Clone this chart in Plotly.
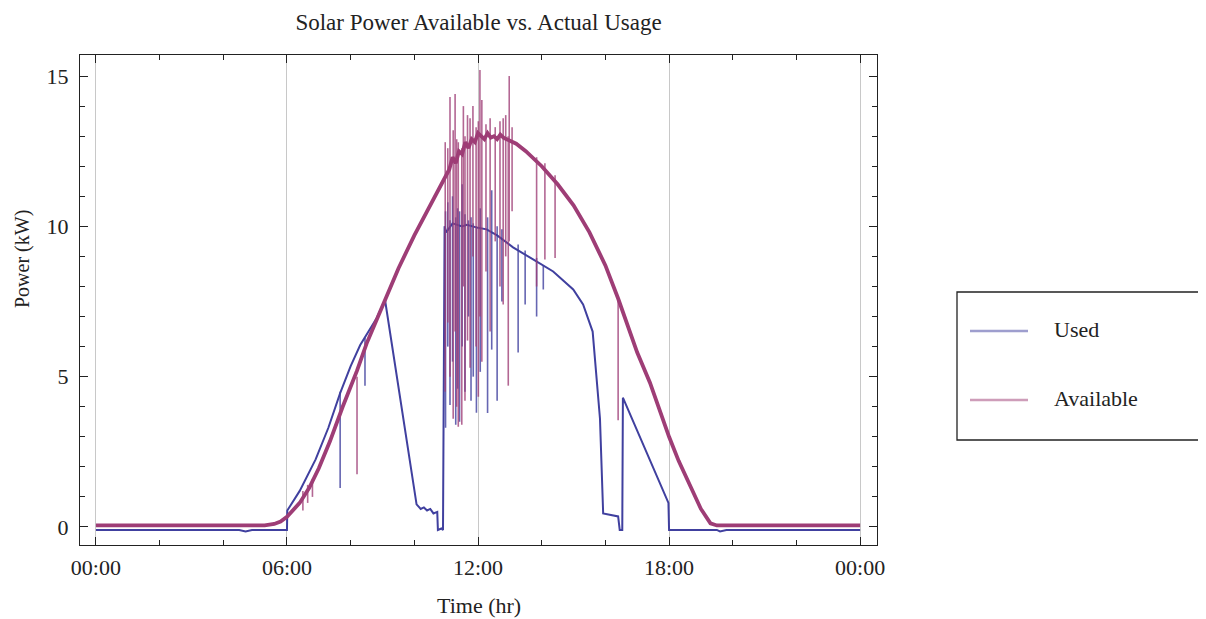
import plotly.graph_objects as go

# ---------------- data (hours, kW) ----------------
used_t = [0.0, 4.5, 4.7, 4.9, 6.0, 6.01, 6.1, 6.4, 6.9, 7.3, 7.67, 8.0, 8.3, 8.6, 8.82, 9.08,
          10.07, 10.2, 10.3, 10.4, 10.5, 10.6, 10.72, 10.74, 10.85, 10.9, 10.91, 10.95,
          11.0, 11.2, 11.5, 11.65, 12.0, 12.27, 12.6, 13.1, 13.73, 14.36, 14.99, 15.3, 15.6,
          15.83, 15.93, 16.2, 16.4, 16.45, 16.53, 16.55, 17.98, 18.0, 19.5, 19.6, 19.8, 24.0]
used_v = [-0.1, -0.1, -0.15, -0.1, -0.1, 0.55, 0.7, 1.2, 2.25, 3.3, 4.45, 5.35, 6.05, 6.55, 6.95, 7.55,
          0.75, 0.6, 0.65, 0.55, 0.6, 0.45, 0.5, -0.1, -0.05, -0.1, 3.2, 10.0,
          9.8, 10.1, 10.0, 10.05, 9.95, 9.9, 9.7, 9.3, 8.9, 8.5, 7.9, 7.4, 6.5,
          3.6, 0.45, 0.4, 0.35, -0.1, -0.1, 4.3, 0.8, -0.1, -0.1, -0.15, -0.1, -0.1]

avail_t = [0.0, 2.0, 4.0, 5.3, 5.6, 5.8, 6.0, 6.2, 6.4, 6.7, 7.0, 7.35, 7.75, 8.2, 8.5, 9.0,
           9.5, 10.0, 10.5, 10.9, 11.0, 11.1, 11.2, 11.3, 11.4, 11.5, 11.6, 11.7, 11.8, 11.9,
           12.0, 12.1, 12.2, 12.3, 12.4, 12.5, 12.6, 12.7, 12.8, 12.9, 13.0, 13.2, 13.5, 14.0,
           14.5, 15.0, 15.5, 16.0, 16.4, 17.0, 17.4, 18.0, 18.3, 18.7, 19.0, 19.3, 19.5, 22.0, 24.0]
avail_v = [0.05, 0.05, 0.05, 0.05, 0.1, 0.18, 0.34, 0.55, 0.8, 1.3, 1.95, 2.85, 4.0, 5.2, 6.1, 7.35,
           8.6, 9.7, 10.7, 11.5, 11.7, 11.9, 12.3, 12.1, 12.5, 12.4, 12.8, 12.6, 12.9, 12.8,
           13.1, 13.0, 12.9, 13.1, 12.95, 13.0, 12.9, 13.05, 12.95, 12.9, 12.85, 12.75, 12.5, 12.0,
           11.4, 10.7, 9.8, 8.7, 7.6, 5.8, 4.8, 3.0, 2.2, 1.25, 0.6, 0.12, 0.05, 0.05, 0.05]

# brief drop-outs / spikes in the sampled data: (time, low, high)
used_spike_t = [7.67, 8.45, 10.98, 11.05, 11.12, 11.2, 11.3, 11.36, 11.42, 11.5, 11.59, 11.7,
                11.78, 11.85, 11.95, 12.07, 12.3, 12.43, 12.6, 12.75, 13.26, 13.48, 13.84, 14.05]
used_spike_lo = [1.3, 4.7, 3.3, 6.0, 4.06, 5.5, 3.4, 4.6, 3.5, 6.0, 4.5, 7.0,
                 4.2, 5.0, 3.8, 5.16, 3.79, 5.9, 4.2, 7.5, 5.8, 7.4, 7.0, 7.9]
used_spike_hi = [4.5, 6.3, 10.5, 10.8, 10.2, 11.0, 10.3, 10.6, 10.5, 11.4, 10.4, 10.2,
                 10.3, 10.1, 10.0, 10.6, 10.3, 11.2, 10.0, 9.9, 9.4, 9.2, 8.95, 8.7]

avail_spike_t = [6.5, 6.65, 6.8, 8.2, 10.97, 11.05, 11.12, 11.22, 11.28, 11.33, 11.38, 11.49,
                 11.54, 11.59, 11.67, 11.75, 11.84, 11.94, 12.01, 12.06, 12.12, 12.25, 12.38,
                 12.54, 12.69, 12.79, 12.87, 12.95, 12.98, 13.07, 13.84, 14.1, 14.42, 16.4]
avail_spike_lo = [0.55, 0.8, 1.0, 1.75, 4.5, 6.8, 5.0, 3.6, 6.5, 4.0, 3.33, 3.4,
                  8.0, 4.2, 6.2, 5.3, 9.0, 6.0, 4.33, 7.0, 5.5, 8.5, 6.5,
                  9.5, 8.0, 7.4, 9.0, 4.7, 9.5, 10.5, 8.0, 8.9, 8.95, 3.55]
avail_spike_hi = [1.2, 1.4, 1.6, 5.0, 12.8, 12.6, 14.3, 13.2, 14.4, 12.9, 12.8, 12.6,
                  14.0, 13.0, 13.7, 13.6, 14.0, 13.3, 13.5, 15.2, 14.2, 13.4, 13.6,
                  13.3, 13.5, 13.6, 13.7, 13.0, 15.0, 13.3, 12.3, 12.1, 11.7, 7.6]

x_tickvals = [0, 6, 12, 18, 24]
x_ticktext = ["00:00", "06:00", "12:00", "18:00", "00:00"]
y_tickvals = [0, 5, 10, 15]

USED = "#40409f"
AVAIL = "#9e3d76"
FONT = "Liberation Serif"
OFF = 8  # page body margin of the html page


def segs(t, lo, hi):
    xs, ys = [], []
    for a, b, c in zip(t, lo, hi):
        xs += [a, a, None]
        ys += [b, c, None]
    return xs, ys


fig = go.Figure()
fig.add_trace(go.Scatter(x=used_t, y=used_v, mode="lines", name="Used",
                         line=dict(color=USED, width=2), showlegend=False))
ux, uy = segs(used_spike_t, used_spike_lo, used_spike_hi)
fig.add_trace(go.Scatter(x=ux, y=uy, mode="lines", line=dict(color=USED, width=1.6),
                         opacity=0.8, showlegend=False, hoverinfo="skip"))
fig.add_trace(go.Scatter(x=avail_t, y=avail_v, mode="lines", name="Available",
                         line=dict(color=AVAIL, width=3.8), showlegend=False))
ax, ay = segs(avail_spike_t, avail_spike_lo, avail_spike_hi)
fig.add_trace(go.Scatter(x=ax, y=ay, mode="lines", line=dict(color=AVAIL, width=1.6),
                         opacity=0.78, showlegend=False, hoverinfo="skip"))

axis_common = dict(showline=True, linecolor="#222", linewidth=1.3, mirror="ticks",
                   ticks="inside", tickcolor="#222", ticklen=8, tickwidth=1.2,
                   zeroline=False, tickfont=dict(family=FONT, size=22, color="#222"))

fig.update_xaxes(range=[-0.5, 24.53], tickmode="array", tickvals=x_tickvals,
                 ticktext=x_ticktext, showgrid=True, gridcolor="#c8c8c8", gridwidth=1.2,
                 minor=dict(dtick=2, tick0=0, ticks="inside", ticklen=5, tickcolor="#222",
                            showgrid=False),
                 ticklabelstandoff=2, **axis_common)
fig.update_yaxes(range=[-0.6, 15.7], tickmode="array", tickvals=y_tickvals, showgrid=False,
                 minor=dict(dtick=1, tick0=0, ticks="inside", ticklen=5, tickcolor="#222",
                            showgrid=False),
                 ticklabelstandoff=6, **axis_common)


# legend (box, sample lines, labels) -- positions in reference page pixels
def px_x(x):
    return (x - 80) / 797


def px_y(y):
    return (545 - y) / 490


fig.add_shape(type="rect", xref="paper", yref="paper", x0=px_x(957), x1=px_x(1204),
              y0=px_y(440), y1=px_y(292), line=dict(color="#222", width=1.3),
              fillcolor="white")
for name, col, yy in [("Used", USED, 331), ("Available", AVAIL, 400)]:
    fig.add_shape(type="line", xref="paper", yref="paper", x0=px_x(970), x1=px_x(1028),
                  y0=px_y(yy), y1=px_y(yy), line=dict(color=col, width=2.5), opacity=0.5)
    fig.add_annotation(text=name, xref="paper", yref="paper", x=px_x(1052), y=px_y(yy - 2),
                       xanchor="left", yanchor="middle", showarrow=False,
                       font=dict(family=FONT, size=22, color="#222"))

fig.add_annotation(text="Time (hr)", xref="paper", yref="paper", x=0.5, y=px_y(605),
                   xanchor="center", yanchor="middle", showarrow=False,
                   font=dict(family=FONT, size=22, color="#222"))
fig.add_annotation(text="Power (kW)", xref="paper", yref="paper", x=px_x(22), y=px_y(259),
                   xanchor="center", yanchor="middle", showarrow=False, textangle=-90,
                   font=dict(family=FONT, size=20, color="#222"))

W, H = 1206 - OFF, 619 - OFF
fig.update_layout(
    width=W, height=H, autosize=False,
    margin=dict(l=80 - OFF, r=1206 - 877, t=55 - OFF, b=619 - 545),
    paper_bgcolor="white", plot_bgcolor="white",
    title=dict(text="Solar Power Available vs. Actual Usage", x=0.5, xref="paper",
               y=1 - (22 - OFF) / H, yref="container", xanchor="center", yanchor="middle",
               font=dict(family=FONT, size=23, color="#222")),
    showlegend=False,
)

fig.write_html("out.html")
